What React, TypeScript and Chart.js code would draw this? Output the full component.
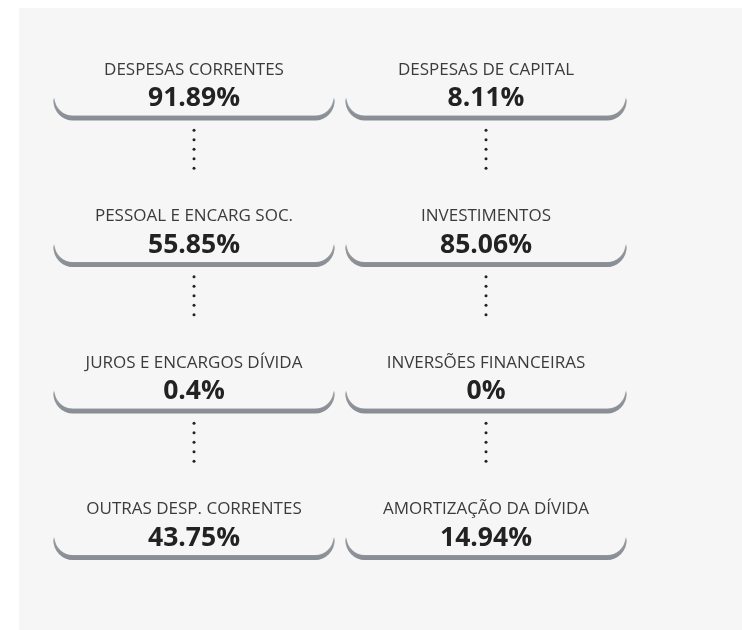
import React, { useEffect, useRef } from "react";
import { Chart, registerables } from "chart.js";

Chart.register(...registerables);

// ---- data ----
const columnKeys = [0, 1];
const leftLabels = [
  "DESPESAS CORRENTES",
  "PESSOAL E ENCARG SOC.",
  "JUROS E ENCARGOS DÍVIDA",
  "OUTRAS DESP. CORRENTES",
];
const leftValues = [91.89, 55.85, 0.4, 43.75];
const rightLabels = [
  "DESPESAS DE CAPITAL",
  "INVESTIMENTOS",
  "INVERSÕES FINANCEIRAS",
  "AMORTIZAÇÃO DA DÍVIDA",
];
const rightValues = [8.11, 85.06, 0, 14.94];

// ---- style constants ----
const PANEL_BG = "#f6f6f6";
const LABEL_FONT = '17px "Open Sans"';
const VALUE_FONT = 'bold 26.5px "Open Sans"';
const LABEL_COLOR = "#3b3b3b";
const VALUE_COLOR = "#222222";
const CARD_HALF = 140;
const CARD_RADIUS = 19;
const DOT_START = 0.218;
const DOT_STEP = 0.065;
const DOT_COUNT = 5;

function drawCard(ctx: CanvasRenderingContext2D, cx: number, vy: number) {
  const L = cx - CARD_HALF;
  const R = cx + CARD_HALF;
  const top = vy - 1;
  const r = CARD_RADIUS;
  const grad = ctx.createLinearGradient(0, top, 0, top + r + 3);
  grad.addColorStop(0, "rgba(140,146,151,0.05)");
  grad.addColorStop(0.55, "rgba(140,146,151,0.65)");
  grad.addColorStop(1, "rgba(136,142,147,1)");
  ctx.save();
  ctx.strokeStyle = grad;
  ctx.lineWidth = 1.3;
  for (let o = 0; o <= 3.5; o += 0.5) {
    ctx.beginPath();
    ctx.moveTo(L, top + o);
    ctx.arc(L + r, top + o, r, Math.PI, Math.PI / 2, true);
    ctx.lineTo(R - r, top + o + r);
    ctx.arc(R - r, top + o, r, Math.PI / 2, 0, true);
    ctx.stroke();
  }
  ctx.restore();
}

const cardsPlugin = {
  id: "cards",
  beforeDraw(chart: any) {
    const { ctx, width, height } = chart;
    ctx.save();
    ctx.fillStyle = PANEL_BG;
    ctx.fillRect(0, 0, width, height);
    ctx.restore();
  },
  afterDatasetsDraw(chart: any) {
    const ctx: CanvasRenderingContext2D = chart.ctx;
    const ys = chart.scales.y;
    chart.data.datasets.forEach((ds: any, di: number) => {
      const meta = chart.getDatasetMeta(di);
      meta.data.forEach((pt: any, i: number) => {
        const cx = pt.x;
        const vy = pt.y;
        drawCard(ctx, cx, vy);
        ctx.save();
        ctx.textAlign = "center";
        ctx.textBaseline = "middle";
        ctx.fillStyle = LABEL_COLOR;
        ctx.font = LABEL_FONT;
        ctx.fillText(ds.labelsText[i], cx, vy - 28.5);
        ctx.fillStyle = VALUE_COLOR;
        ctx.font = VALUE_FONT;
        ctx.fillText(`${ds.data[i].v}%`, cx, vy + 0.5);
        // connector dots
        if (i < meta.data.length - 1) {
          ctx.fillStyle = "#222222";
          for (let k = 0; k < DOT_COUNT; k++) {
            const y = ys.getPixelForValue(ds.data[i].y + DOT_START + k * DOT_STEP);
            ctx.beginPath();
            ctx.arc(cx, y, 1.5, 0, Math.PI * 2);
            ctx.fill();
          }
        }
        ctx.restore();
      });
    });
  },
};

export default function App() {
  const ref = useRef<HTMLCanvasElement | null>(null);
  useEffect(() => {
    if (!ref.current) return;
    const cols = [
      { labels: leftLabels, values: leftValues },
      { labels: rightLabels, values: rightValues },
    ];
    const chart = new Chart(ref.current, {
      type: "scatter",
      data: {
        datasets: cols.map((c, ci) => ({
          label: `col${columnKeys[ci]}`,
          labelsText: c.labels,
          data: c.values.map((v, ri) => ({ x: columnKeys[ci], y: ri, v })),
          pointRadius: 0,
          pointHoverRadius: 0,
        })) as any,
      },
      options: {
        animation: false,
        responsive: true,
        maintainAspectRatio: false,
        devicePixelRatio: 1,
        events: [],
        layout: { padding: { left: 29, right: 110, top: 17, bottom: 19 } },
        scales: {
          x: { type: "linear", min: -0.5, max: 1.5, display: false },
          y: { type: "linear", min: -0.5, max: 3.5, reverse: true, display: false },
        },
        plugins: { legend: { display: false }, tooltip: { enabled: false } },
      },
      plugins: [cardsPlugin],
    });
    const fonts = (document as any).fonts;
    if (fonts && fonts.load) {
      Promise.all([fonts.load(LABEL_FONT), fonts.load(VALUE_FONT)]).then(() => chart.draw());
    }
    return () => chart.destroy();
  }, []);
  return (
    <div
      style={{
        position: "fixed",
        left: 19,
        top: 8,
        width: 723,
        height: 622,
        background: PANEL_BG,
      }}
    >
      <canvas ref={ref} />
    </div>
  );
}
